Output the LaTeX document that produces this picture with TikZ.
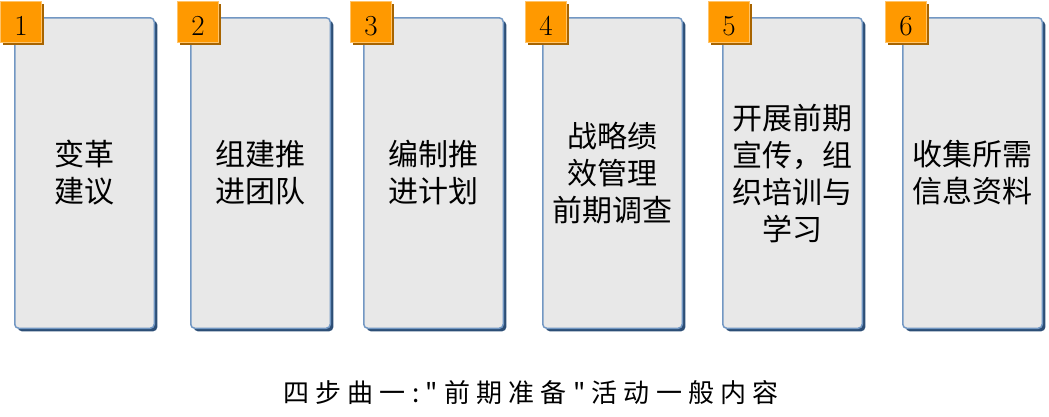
\documentclass[tikz,border=0pt]{standalone}
\usepackage{fontspec}
\usepackage{tikz}
\usetikzlibrary{shadows}
\newfontfamily\cjk{Noto Sans CJK SC}
\newfontfamily\cjkwide[LetterSpace=24]{Noto Sans CJK SC}
\definecolor{boxfill}{HTML}{E8E8E8}
\definecolor{boxedge}{HTML}{7297C3}
\definecolor{boxshadow}{HTML}{2C4E76}
\definecolor{tagfill}{HTML}{FF9900}
\definecolor{tagedge}{HTML}{FFC46A}
\definecolor{tagshadow}{HTML}{A86400}
\tikzset{
  stepbox/.style={rectangle, rounded corners=4pt, draw=boxedge, line width=1.5pt,
    fill=boxfill, minimum width=139.5pt, minimum height=310.5pt, align=center,
    font=\cjk\fontsize{30}{37}\selectfont,
    drop shadow={fill=boxshadow, opacity=1, shadow xshift=3pt, shadow yshift=-3pt}},
  numtag/.style={rectangle, draw=tagedge, line width=1pt, fill=tagfill,
    minimum size=41pt, inner sep=0pt, text height=26pt, text depth=0pt,
    font=\fontsize{29}{29}\selectfont,
    drop shadow={fill=tagshadow, opacity=1, shadow xshift=2pt, shadow yshift=-2pt}},
  caption/.style={font=\cjkwide\fontsize{26}{26}\selectfont, inner sep=0pt}
}
\begin{document}
\begin{tikzpicture}[x=1pt,y=-1pt]
\useasboundingbox (0,0) rectangle (1049,416);
% the six steps
\node[stepbox] (box1) at (84.5,173) {变革\\建议};
\node[stepbox] (box2) at (260.5,173) {组建推\\进团队};
\node[stepbox] (box3) at (433.5,173) {编制推\\进计划};
\node[stepbox] (box4) at (612.5,173) {战略绩\\效管理\\前期调查};
\node[stepbox] (box5) at (792.5,173) {开展前期\\宣传，组\\织培训与\\学习};
\node[stepbox] (box6) at (972.5,173) {收集所需\\信息资料};
% number tags
\node[numtag] (num1) at (21,22) {1};
\node[numtag] (num2) at (198,22) {2};
\node[numtag] (num3) at (371,22) {3};
\node[numtag] (num4) at (546,22) {4};
\node[numtag] (num5) at (729,22) {5};
\node[numtag] (num6) at (906,22) {6};
% caption
\node[caption] (title) at (531,393) {四步曲一:"前期准备"活动一般内容};
\end{tikzpicture}
\end{document}
